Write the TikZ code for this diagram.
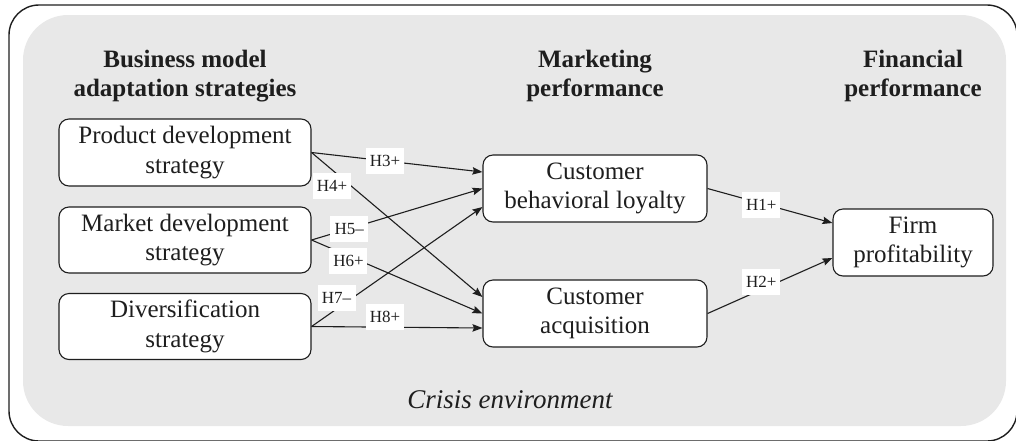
\documentclass[tikz,border=0pt]{standalone}
\usepackage{fontspec}
\setmainfont{Liberation Serif}
\usetikzlibrary{arrows.meta}
\definecolor{panel}{HTML}{E8E8E8}
\definecolor{ink}{HTML}{1E1E1E}
\begin{document}
\begin{tikzpicture}[x=1pt,y=-1pt,
  box/.style={draw=ink, line width=1.1pt, fill=white, rounded corners=10pt,
    align=center, inner sep=0pt, font=\fontsize{25}{29.5}\selectfont, text=ink,
    execute at begin node={\rule{0pt}{24pt}},
    execute at end node={\rule[-5pt]{0pt}{5pt}}},
  head/.style={align=center, inner sep=0pt,
    font=\fontsize{25}{29.5}\selectfont\bfseries, text=ink,
    execute at begin node={\rule{0pt}{20pt}},
    execute at end node={\rule[-6pt]{0pt}{6pt}}},
  link/.style={draw=ink, line width=1.1pt, -{Stealth[length=10pt,width=7.5pt,inset=1.5pt]}},
  hyp/.style={fill=white, inner sep=0pt, minimum width=38pt, minimum height=26pt,
    font=\fontsize{17}{19}\selectfont, text=ink},
]
\clip (0,0) rectangle (1016,440);

% outer frame and shaded panel
\draw[ink, line width=1.4pt, rounded corners=30pt] (9,5) rectangle (1017,441);
\fill[panel, rounded corners=45pt] (23,15) rectangle (1006,426);

% column headings
\node[head] (h1) at (185,76.25) {Business model\\adaptation strategies};
\node[head] (h2) at (595,76.25) {Marketing\\performance};
\node[head] (h3) at (913,76.25) {Financial\\performance};

% strategy boxes
\node[box, minimum width=252pt, minimum height=67pt] (pd) at (185,152.5) {Product development\\strategy};
\node[box, minimum width=252pt, minimum height=66pt] (md) at (185,240) {Market development\\strategy};
\node[box, minimum width=252pt, minimum height=66pt] (ds) at (185,326.5) {Diversification\\strategy};

% marketing performance boxes
\node[box, minimum width=224pt, minimum height=67pt] (cbl) at (595,188.5) {Customer\\behavioral loyalty};
\node[box, minimum width=224pt, minimum height=67pt] (ca) at (595,313.5) {Customer\\acquisition};

% financial performance box
\node[box, minimum width=160pt, minimum height=67pt] (fp) at (913,242.5) {Firm\\profitability};

% hypothesised paths
\draw[link] (pd.east) -- node[hyp, pos=0.43] (l3) {H3+} ([yshift=16.5pt]cbl.west);
\draw[link] (pd.east) -- node[hyp, pos=0.12, yshift=-16pt] (l4) {H4+} ([yshift=16.5pt]ca.west);
\draw[link] (md.east) -- node[hyp, pos=0.22] (l5) {H5–} (cbl.west);
\draw[link] (md.east) -- node[hyp, pos=0.216, yshift=-5pt] (l6) {H6+} (ca.west);
\draw[link] (ds.east) -- node[hyp, pos=0.146, yshift=11pt] (l7) {H7–} ([yshift=-18.5pt]cbl.west);
\draw[link] (ds.east) -- node[hyp, pos=0.43, yshift=10pt] (l8) {H8+} ([yshift=-14.5pt]ca.west);
\draw[link] (cbl.east) -- node[hyp, pos=0.43, yshift=-2pt] (l1) {H1+} ([yshift=19.5pt]fp.west);
\draw[link] (ca.east) -- node[hyp, pos=0.43, yshift=8pt] (l2) {H2+} ([yshift=-15.5pt]fp.west);

% setting
\node[font=\fontsize{27}{30}\selectfont\itshape, text=ink] (env) at (510,400) {Crisis environment};
\end{tikzpicture}
\end{document}
